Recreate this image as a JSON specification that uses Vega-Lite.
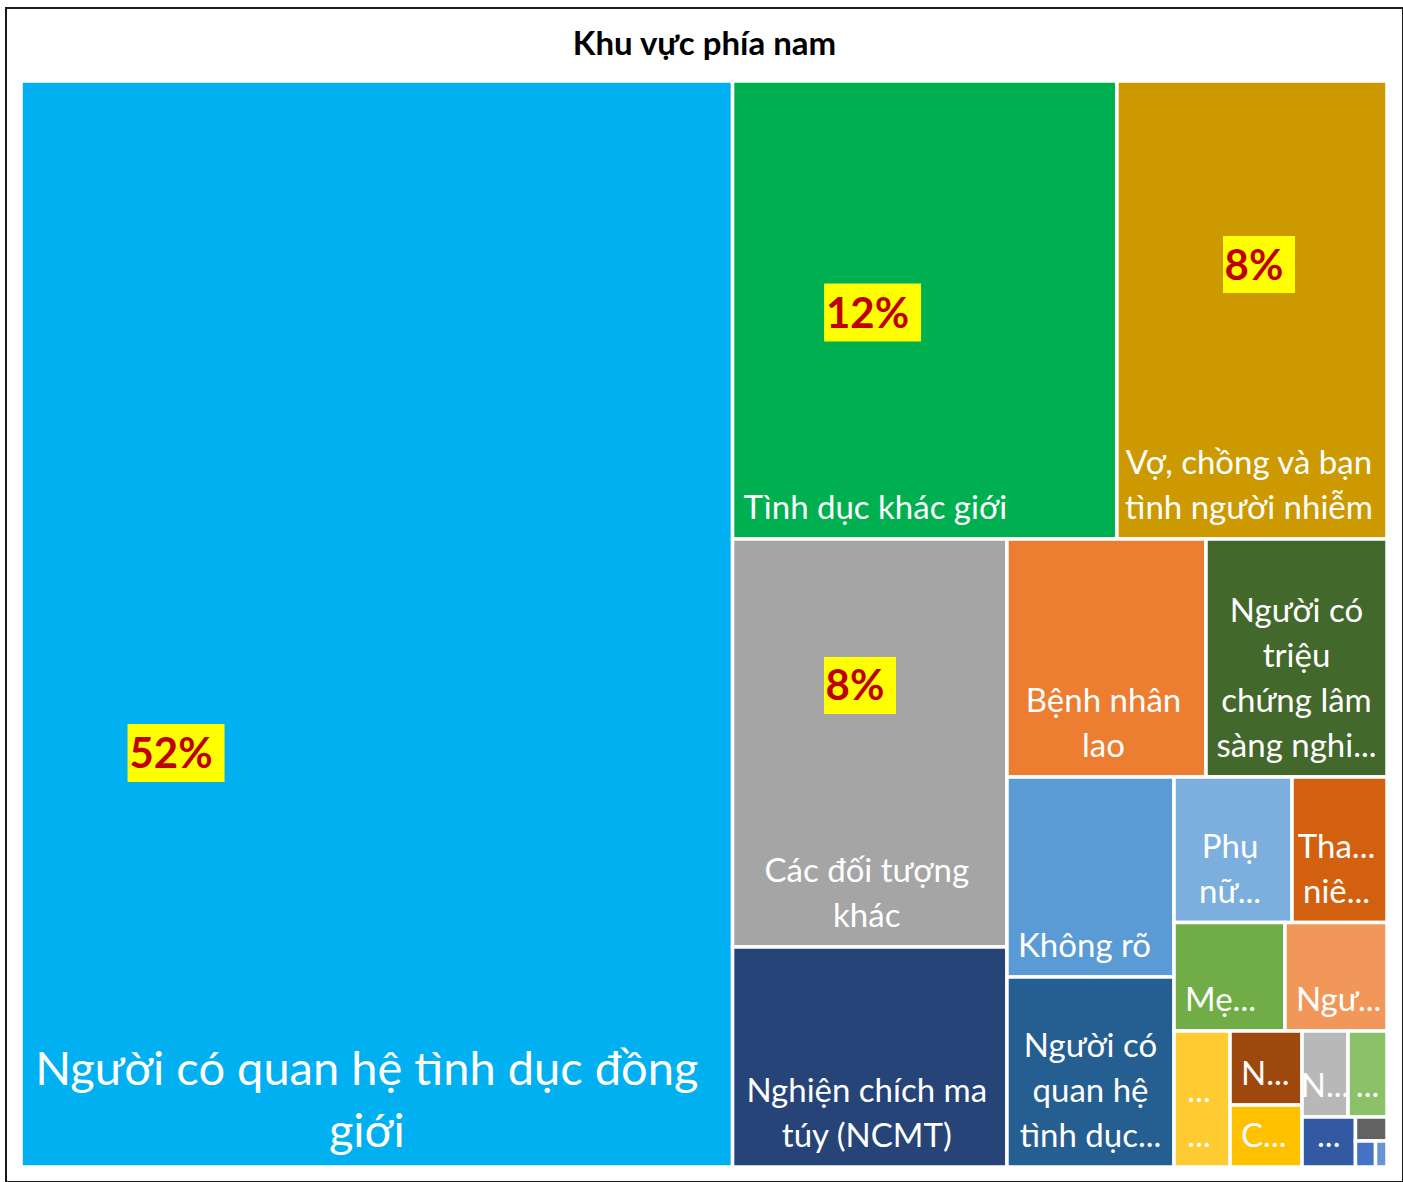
{
  "$schema": "https://vega.github.io/schema/vega-lite/v6.json",
  "width": 1397,
  "height": 1174,
  "autosize": {"type": "none"},
  "padding": {"left": 6, "top": 8, "right": 0, "bottom": 0},
  "background": "white",
  "config": {"view": {"stroke": "#1a1a1a", "strokeWidth": 2}, "font": "Lato"},
  "title": {"text": "Khu vực phía nam", "anchor": "middle", "frame": "group", "offset": -80, "baseline": "alphabetic", "font": "Lato", "fontWeight": "bold", "fontSize": 33, "color": "#000000"},
  "datasets": {
    "tiles": [
      {"id": "01", "label": "Người có quan hệ tình dục đồng\ngiới", "value": 52.09, "x0": 0, "x1": 52.09, "y0": 0, "y1": 100},
      {"id": "02", "label": "Tình dục khác giới", "value": 11.87, "x0": 52.09, "x1": 80.23, "y0": 0, "y1": 42.17},
      {"id": "03", "label": "Vợ, chồng và bạn\ntình người nhiễm", "value": 8.34, "x0": 80.23, "x1": 100, "y0": 0, "y1": 42.17},
      {"id": "04", "label": "Các đối tượng\nkhác", "value": 7.55, "x0": 52.09, "x1": 72.18, "y0": 42.17, "y1": 79.74},
      {"id": "05", "label": "Nghiện chích ma\ntúy (NCMT)", "value": 4.07, "x0": 52.09, "x1": 72.18, "y0": 79.74, "y1": 100},
      {"id": "06", "label": "Bệnh nhân\nlao", "value": 3.19, "x0": 72.18, "x1": 86.75, "y0": 42.17, "y1": 64.09},
      {"id": "07", "label": "Người có\ntriệu\nchứng lâm\nsàng nghi...", "value": 2.9, "x0": 86.75, "x1": 100, "y0": 42.17, "y1": 64.09},
      {"id": "08", "label": "Không rõ", "value": 2.25, "x0": 72.18, "x1": 84.41, "y0": 64.09, "y1": 82.5},
      {"id": "09", "label": "Người có\nquan hệ\ntình dục...", "value": 2.14, "x0": 72.18, "x1": 84.41, "y0": 82.5, "y1": 100},
      {"id": "10", "label": "Phụ\nnữ...", "value": 1.16, "x0": 84.41, "x1": 93.05, "y0": 64.09, "y1": 77.49},
      {"id": "11", "label": "Tha...\nniê...", "value": 0.93, "x0": 93.05, "x1": 100, "y0": 64.09, "y1": 77.49},
      {"id": "12", "label": "Mẹ...", "value": 0.81, "x0": 84.41, "x1": 92.53, "y0": 77.49, "y1": 87.48},
      {"id": "13", "label": "Ngư...", "value": 0.75, "x0": 92.53, "x1": 100, "y0": 77.49, "y1": 87.48},
      {"id": "14", "label": "...\n...", "value": 0.51, "x0": 84.41, "x1": 88.51, "y0": 87.48, "y1": 100},
      {"id": "15", "label": "N...", "value": 0.36, "x0": 88.51, "x1": 93.78, "y0": 87.48, "y1": 94.29},
      {"id": "16", "label": "C...", "value": 0.3, "x0": 88.51, "x1": 93.78, "y0": 94.29, "y1": 100},
      {"id": "17", "label": "N...", "value": 0.27, "x0": 93.78, "x1": 97.15, "y0": 87.48, "y1": 95.4},
      {"id": "18", "label": "...", "value": 0.23, "x0": 97.15, "x1": 100, "y0": 87.48, "y1": 95.4},
      {"id": "19", "label": "...", "value": 0.18, "x0": 93.78, "x1": 97.69, "y0": 95.4, "y1": 100},
      {"id": "20", "label": "", "value": 0.05, "x0": 97.69, "x1": 100, "y0": 95.4, "y1": 97.6},
      {"id": "21", "label": "", "value": 0.03, "x0": 97.69, "x1": 99.16, "y0": 97.6, "y1": 100},
      {"id": "22", "label": "", "value": 0.02, "x0": 99.16, "x1": 100, "y0": 97.6, "y1": 100}
    ],
    "callouts": [
      {"share": 0.52, "x": 11.35, "y": 61.88},
      {"share": 0.12, "x": 62.34, "y": 21.32},
      {"share": 0.08, "x": 90.63, "y": 16.9},
      {"share": 0.08, "x": 61.42, "y": 55.66}
    ]
  },
  "layer": [
    {
      "data": {"name": "tiles"},
      "mark": {"type": "rect", "stroke": "white", "strokeWidth": 3.5},
      "encoding": {
        "x": {"field": "x0", "type": "quantitative", "scale": {"domain": [-1.098, 101.171], "nice": false, "zero": false}, "axis": null},
        "x2": {"field": "x1"},
        "y": {"field": "y0", "type": "quantitative", "scale": {"domain": [-6.722, 101.381], "reverse": true, "nice": false, "zero": false}, "axis": null},
        "y2": {"field": "y1"},
        "color": {
          "field": "id", "type": "nominal", "legend": null,
          "scale": {
            "domain": ["01","02","03","04","05","06","07","08","09","10","11","12","13","14","15","16","17","18","19","20","21","22"],
            "range": ["#00B0F0","#00B050","#CC9A00","#A5A5A5","#264478","#ED7D31","#43682B","#5B9BD5","#255E91","#7CAFDD","#D2600F","#70AD47","#F1975A","#FFCB33","#9E480E","#FFC000","#B8B8B8","#8BC168","#3359A3","#626262","#4472C4","#6A93D4"]
          }
        }
      }
    },
    {
      "data": {"name": "tiles"},
      "transform": [
        {"filter": "datum.id == '01'"},
        {"calculate": "(datum.x0 + datum.x1) / 2", "as": "cx"}
      ],
      "mark": {"type": "text", "align": "center", "baseline": "bottom", "dx": -10, "dy": -72, "fontSize": 47, "lineHeight": 62, "lineBreak": "\n", "color": "white", "font": "Lato"},
      "encoding": {
        "x": {"field": "cx", "type": "quantitative"},
        "y": {"field": "y1", "type": "quantitative"},
        "text": {"field": "label"}
      }
    },
    {
      "data": {"name": "tiles"},
      "transform": [
        {"calculate": "length(split(datum.label, '\\n'))", "as": "n"},
        {"filter": "datum.id != '01' && datum.n == 2"},
        {"calculate": "(datum.x0 + datum.x1) / 2", "as": "cx"}
      ],
      "mark": {"type": "text", "align": "center", "baseline": "bottom", "dx": -3, "dy": -58, "fontSize": 33, "lineHeight": 45, "lineBreak": "\n", "color": "white", "font": "Lato"},
      "encoding": {
        "x": {"field": "cx", "type": "quantitative"},
        "y": {"field": "y1", "type": "quantitative"},
        "text": {"field": "label"}
      }
    },
    {
      "data": {"name": "tiles"},
      "transform": [
        {"calculate": "length(split(datum.label, '\\n'))", "as": "n"},
        {"filter": "datum.n == 3"},
        {"calculate": "(datum.x0 + datum.x1) / 2", "as": "cx"}
      ],
      "mark": {"type": "text", "align": "center", "baseline": "bottom", "dy": -103, "fontSize": 33, "lineHeight": 45, "lineBreak": "\n", "color": "white", "font": "Lato"},
      "encoding": {
        "x": {"field": "cx", "type": "quantitative"},
        "y": {"field": "y1", "type": "quantitative"},
        "text": {"field": "label"}
      }
    },
    {
      "data": {"name": "tiles"},
      "transform": [
        {"calculate": "length(split(datum.label, '\\n'))", "as": "n"},
        {"filter": "datum.n == 4"},
        {"calculate": "(datum.x0 + datum.x1) / 2", "as": "cx"}
      ],
      "mark": {"type": "text", "align": "center", "baseline": "bottom", "dy": -148, "fontSize": 33, "lineHeight": 45, "lineBreak": "\n", "color": "white", "font": "Lato"},
      "encoding": {
        "x": {"field": "cx", "type": "quantitative"},
        "y": {"field": "y1", "type": "quantitative"},
        "text": {"field": "label"}
      }
    },
    {
      "data": {"name": "tiles"},
      "transform": [
        {"filter": "datum.label != '' && indexof(datum.label, '\\n') < 0 && datum.x1 - datum.x0 >= 4"}
      ],
      "mark": {"type": "text", "align": "left", "baseline": "bottom", "dx": 11, "dy": -13, "fontSize": 33, "color": "white", "font": "Lato"},
      "encoding": {
        "x": {"field": "x0", "type": "quantitative"},
        "y": {"field": "y1", "type": "quantitative"},
        "text": {"field": "label"}
      }
    },
    {
      "data": {"name": "tiles"},
      "transform": [
        {"filter": "datum.label != '' && indexof(datum.label, '\\n') < 0 && datum.x1 - datum.x0 < 4"},
        {"calculate": "(datum.x0 + datum.x1) / 2", "as": "cx"}
      ],
      "mark": {"type": "text", "align": "center", "baseline": "bottom", "dy": -13, "fontSize": 33, "color": "white", "font": "Lato"},
      "encoding": {
        "x": {"field": "cx", "type": "quantitative"},
        "y": {"field": "y1", "type": "quantitative"},
        "text": {"field": "label"}
      }
    },
    {
      "data": {"name": "callouts"},
      "transform": [{"filter": "datum.share >= 0.1"}],
      "mark": {"type": "rect", "color": "#FFFF00", "width": 97, "height": 58},
      "encoding": {
        "x": {"field": "x", "type": "quantitative"},
        "y": {"field": "y", "type": "quantitative"}
      }
    },
    {
      "data": {"name": "callouts"},
      "transform": [{"filter": "datum.share < 0.1"}],
      "mark": {"type": "rect", "color": "#FFFF00", "width": 72, "height": 57},
      "encoding": {
        "x": {"field": "x", "type": "quantitative"},
        "y": {"field": "y", "type": "quantitative"}
      }
    },
    {
      "data": {"name": "callouts"},
      "mark": {"type": "text", "align": "center", "baseline": "middle", "dx": -5, "dy": 2, "fontSize": 42, "fontWeight": "bold", "color": "#C00000", "font": "Lato"},
      "encoding": {
        "x": {"field": "x", "type": "quantitative"},
        "y": {"field": "y", "type": "quantitative"},
        "text": {"field": "share", "type": "quantitative", "format": ".0%"}
      }
    }
  ]
}
